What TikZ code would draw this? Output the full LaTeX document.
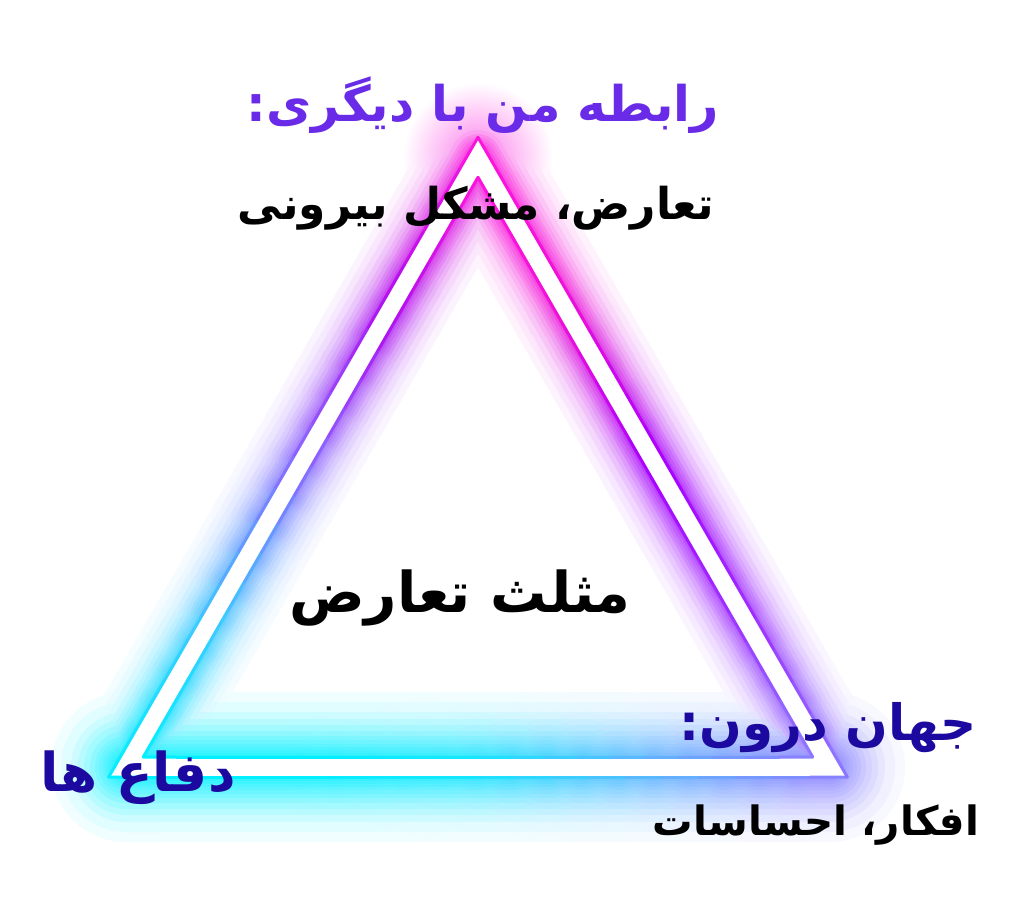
\documentclass[tikz,border=0pt]{standalone}
\usepackage{fontspec}
\usetikzlibrary{calc}
\TeXXeTstate=1
\newfontfamily\farsi[Script=Arabic]{DejaVu Sans}

\definecolor{glowtop}{HTML}{FF14DC}
\definecolor{glowla}{HTML}{B010F0}
\definecolor{glowlb}{HTML}{8A6AFF}
\definecolor{glowlc}{HTML}{40C8FF}
\definecolor{glowleft}{HTML}{00F0FF}
\definecolor{glowbot}{HTML}{18E6FF}
\definecolor{glowbr}{HTML}{60B4FF}
\definecolor{glowright}{HTML}{8C7CFF}
\definecolor{glowrc}{HTML}{A030FF}
\definecolor{glowrb}{HTML}{A800FF}
\definecolor{glowra}{HTML}{F010D8}
\definecolor{titlepurple}{HTML}{6A2BE8}
\definecolor{labelblue}{HTML}{1C0AA0}

\tikzset{
  neon/.style={line cap=round},
  farsilabel/.style={font=\farsi\bfseries\fontsize{#1}{#1}\selectfont, inner sep=0pt},
}

\def\glowpct{100}

% part of one side, cut in short pieces so the colour can change
\newcommand{\neonedge}[6]{%
  \foreach \i in {1,...,5}{
    \pgfmathsetmacro{\ta}{#3+(#4-#3)*(\i-1)/5}
    \pgfmathsetmacro{\tb}{#3+(#4-#3)*\i/5}
    \pgfmathtruncatemacro{\mix}{(\i-0.5)/5*100}
    \colorlet{segcol}{#6!\mix!#5}
    \draw[neon, segcol!\glowpct!white] ($(#1)!\ta!(#2)$) -- ($(#1)!\tb!(#2)$);
  }%
}
\newcommand{\neonside}[7]{%
  \neonedge{#1}{#2}{0}{0.25}{#3}{#4}
  \neonedge{#1}{#2}{0.25}{0.5}{#4}{#5}
  \neonedge{#1}{#2}{0.5}{0.75}{#5}{#6}
  \neonedge{#1}{#2}{0.75}{1}{#6}{#7}
}
\newcommand{\neonleft}[1]{\neonside{#1t}{#1l}{glowtop}{glowla}{glowlb}{glowlc}{glowleft}}
\newcommand{\neonbottom}[1]{\neonside{#1l}{#1r}{glowleft}{glowleft}{glowbot}{glowbr}{glowright}}
\newcommand{\neonright}[1]{\neonside{#1r}{#1t}{glowright}{glowrc}{glowrb}{glowra}{glowtop}}

\begin{document}
\begin{tikzpicture}[x=0.02cm, y=-0.02cm]

  \useasboundingbox (0,0) rectangle (1024,911);

  % middle line of the band, and its two edges
  \coordinate (mt) at (478,157.3);
  \coordinate (ml) at (126,767);
  \coordinate (mr) at (830,767);
  \coordinate (ot) at (478,137.3);
  \coordinate (ol) at (108.7,777);
  \coordinate (or) at (847.3,777);
  \coordinate (it) at (478,177.3);
  \coordinate (il) at (143.3,757);
  \coordinate (ir) at (812.7,757);

  \begin{scope}[blend mode=darken]
    % glow round the top corner
    \shade[inner color=glowtop!55!white, outer color=white] (mt) circle (75);
    % glow, widest and palest first: width / sides / bottom
    \foreach \w/\a/\b in {150/0/6,130/0/12,110/5/20,96/10/28,84/16/36,72/24/44,
        62/32/52,54/40/58,46/50/64,40/58/70,34/66/75,28/74/80,24/80/84}{
      \begin{scope}[line width=\w*0.02cm]
        \def\glowpct{\b}
        \neonbottom{m}
        \ifnum\a>0
          \def\glowpct{\a}
          \neonleft{m}
          \neonright{m}
        \fi
      \end{scope}
    }
  \end{scope}

  % white band with a thin coloured rim
  \draw[white, line width=20*0.02cm, line join=miter] (mt) -- (ml) -- (mr) -- cycle;
  \begin{scope}[line width=3*0.02cm]
    \neonleft{o} \neonbottom{o} \neonright{o}
    \neonleft{i} \neonbottom{i} \neonright{i}
  \end{scope}

  \node[farsilabel=28, titlepurple] (relation) at (483,105) {\beginR رابطه من با دیگری:\endR};
  \node[farsilabel=25, black] (outer) at (476,208) {\beginR تعارض، مشکل بیرونی\endR};
  \node[farsilabel=32, black] (triangle) at (460,598) {\beginR مثلث تعارض\endR};
  \node[farsilabel=28.5, labelblue] (inner) at (828,728) {\beginR جهان درون:\endR};
  \node[farsilabel=23, black] (feelings) at (816,825) {\beginR افکار، احساسات\endR};
  \node[farsilabel=30.5, labelblue] (defence) at (138,778) {\beginR دفاع ها\endR};

\end{tikzpicture}
\end{document}
